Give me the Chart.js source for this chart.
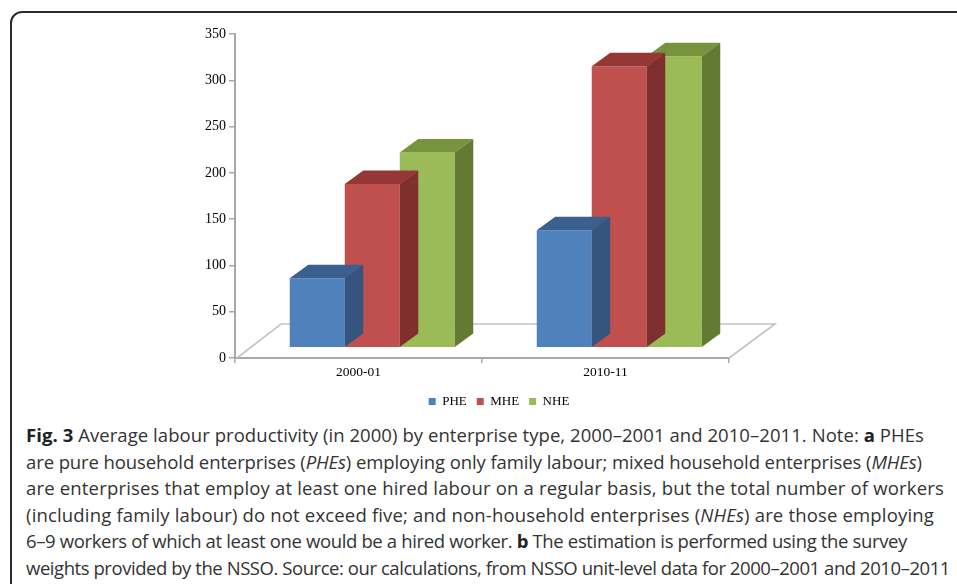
<!DOCTYPE html>
<html><head><meta charset="utf-8">
<script src="https://cdn.jsdelivr.net/npm/chart.js@4.4.1/dist/chart.umd.min.js"></script>
<style>
html,body{margin:0;padding:0;background:#fff;width:957px;height:584px;overflow:hidden;}
#frame{position:absolute;left:10px;top:11px;width:990px;height:600px;border:2px solid #2b2b2b;border-radius:12px;box-sizing:border-box;}
#wrap{position:absolute;left:0;top:0;width:957px;height:420px;}
#cap{position:absolute;left:26px;top:422px;font-family:"Open Sans",sans-serif;font-size:18.5px;line-height:26.5px;color:#333;white-space:nowrap;}
#cap b{color:#222;}
#cap span.ln{display:inline-block;}
</style></head><body>
<div id="frame"></div>
<div id="wrap"><canvas id="c" width="957" height="420"></canvas></div>
<div id="cap">
<div><span class="ln"><b>Fig. 3</b> Average labour productivity (in 2000) by enterprise type, 2000–2001 and 2010–2011. Note: <b>a</b> PHEs</span></div>
<div><span class="ln">are pure household enterprises (<i>PHEs</i>) employing only family labour; mixed household enterprises (<i>MHEs</i>)</span></div>
<div><span class="ln">are enterprises that employ at least one hired labour on a regular basis, but the total number of workers</span></div>
<div><span class="ln">(including family labour) do not exceed five; and non-household enterprises (<i>NHEs</i>) are those employing</span></div>
<div><span class="ln">6–9 workers of which at least one would be a hired worker. <b>b</b> The estimation is performed using the survey</span></div>
<div><span class="ln">weights provided by the NSSO. Source: our calculations, from NSSO unit-level data for 2000–2001 and 2010–2011</span></div>
</div>
<script>
// ---- data ----
const categories = ['2000-01', '2010-11'];
const seriesNames = ['PHE', 'MHE', 'NHE'];
const pheValues = [75, 127];
const mheValues = [177, 304];
const nheValues = [211, 315];
const yMin = 0, yMax = 350, yStep = 50;

// ---- styling ----
const frontColors = ['#4F81BD', '#C0504D', '#9BBB59'];
const topColors = ['#3A6090', '#953735', '#77933C'];
const sideColors = ['#35557E', '#7F2F2D', '#637A32'];
const floorDX = 46, floorDY = 34;   // floor depth (px)
const barDX = 18.5, barDY = 13.5;   // bar depth (px)
const shiftX = (floorDX - barDX) / 2, shiftY = (floorDY - barDY) / 2;
const axisGray = '#a8a8a8';
const serif = 'Liberation Serif';

// caption line right edges in the reference (layout fitting)
const captionRight = [924, 922, 944, 934, 907, 950];
const captionLeft = 26;
document.querySelectorAll('#cap span.ln').forEach((s, i) => {
  const w = s.getBoundingClientRect().width;
  const n = s.textContent.length;
  const extra = (captionRight[i] - captionLeft) - w;
  s.style.letterSpacing = (extra / n) + 'px';
});

const threeD = {
  id: 'threeD',
  beforeDatasetsDraw(chart) {
    const {ctx, chartArea: a} = chart;
    ctx.save();
    ctx.beginPath();
    ctx.moveTo(a.left + 2, a.bottom);
    ctx.lineTo(a.left + floorDX, a.bottom - floorDY);
    ctx.lineTo(a.right + floorDX, a.bottom - floorDY);
    ctx.lineTo(a.right, a.bottom);
    ctx.strokeStyle = '#c4c4c4';
    ctx.lineWidth = 1.6;
    ctx.stroke();
    ctx.restore();
  },
  beforeDatasetDraw(chart) {
    chart.ctx.save();
    chart.ctx.translate(shiftX, -shiftY);
  },
  afterDatasetDraw(chart, args) {
    const ctx = chart.ctx;
    const i = args.index;
    args.meta.data.forEach(bar => {
      const {x, y, base, width} = bar.getProps(['x', 'y', 'base', 'width'], true);
      const l = x - width / 2, r = x + width / 2;
      ctx.fillStyle = topColors[i];
      ctx.beginPath();
      ctx.moveTo(l, y); ctx.lineTo(l + barDX, y - barDY); ctx.lineTo(r + barDX, y - barDY); ctx.lineTo(r, y);
      ctx.closePath(); ctx.fill();
      ctx.fillStyle = sideColors[i];
      ctx.beginPath();
      ctx.moveTo(r, y); ctx.lineTo(r + barDX, y - barDY); ctx.lineTo(r + barDX, base - barDY); ctx.lineTo(r, base);
      ctx.closePath(); ctx.fill();
    });
    ctx.restore();
  }
};

const legendShift = {
  id: 'legendShift',
  afterLayout(chart) {
    if (chart.legend) { chart.legend.left += 40; chart.legend.right += 40; }
  }
};

const seriesValues = [pheValues, mheValues, nheValues];
new Chart(document.getElementById('c'), {
  type: 'bar',
  data: {
    labels: categories,
    datasets: seriesNames.map((n, i) => ({
      label: n,
      data: seriesValues[i],
      backgroundColor: frontColors[i],
      borderWidth: 0,
      clip: false,
      categoryPercentage: 0.668,
      barPercentage: 1
    }))
  },
  options: {
    responsive: false,
    animation: false,
    layout: {padding: {left: 189, right: 228, top: 34, bottom: 2}},
    plugins: {
      tooltip: {enabled: false},
      legend: {
        position: 'bottom',
        labels: {boxWidth: 7, boxHeight: 7, padding: 10, color: '#000', font: {family: serif, size: 13}}
      }
    },
    scales: {
      x: {
        grid: {offset: true, drawOnChartArea: false, tickLength: 5, color: axisGray, lineWidth: 1.5},
        border: {color: axisGray, width: 2},
        ticks: {color: '#000', padding: 1, font: {family: serif, size: 13.5}},
        afterFit(s) { s.height = 27; }
      },
      y: {
        min: yMin, max: yMax,
        grid: {drawOnChartArea: false, tickLength: 6, color: axisGray, lineWidth: 1.5},
        border: {color: axisGray, width: 2},
        ticks: {stepSize: yStep, color: '#000', padding: 3, font: {family: serif, size: 14}},
        afterFit(s) { s.width = 46; }
      }
    }
  },
  plugins: [threeD, legendShift]
});
</script>
</body></html>
